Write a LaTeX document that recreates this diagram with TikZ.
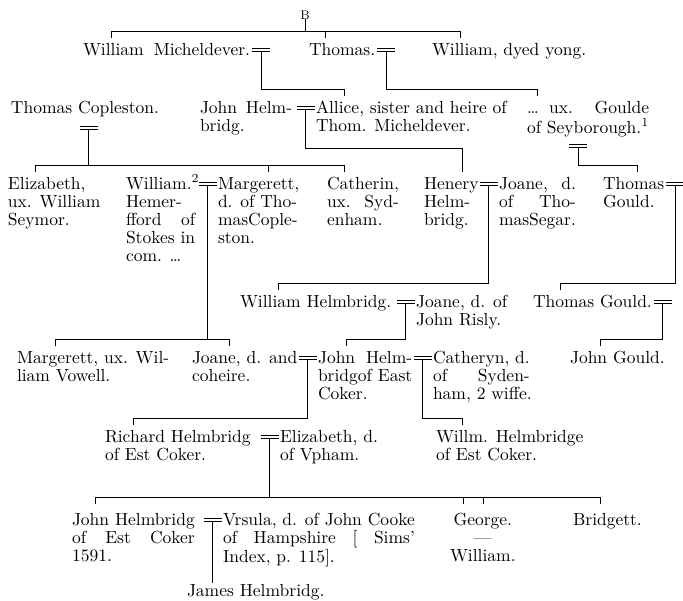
\documentclass[tikz,border=0pt]{standalone}
\usepackage{fontspec}
\usetikzlibrary{calc}
\newlength\spreadw
\newcommand\entry[2][l]{\begin{tabular}[t]{@{}#1@{}}#2\end{tabular}}
\newcommand\spreadto[2]{\settowidth{\spreadw}{#1}\makebox[\spreadw][s]{#2}}
\newcommand\wed[1]{\draw[link] ($(#1)+(-9,0)$) -- ++(18,0) ($(#1)+(-9,-3)$) -- ++(18,0);}
\begin{document}
\begin{tikzpicture}[x=0.6pt,y=-0.6pt,
  link/.style={line width=0.6pt},
  person/.style={anchor=base west,inner sep=0pt,outer sep=0pt,font=\fontsize{10.5}{10.8}\selectfont},
  letter/.style={anchor=base,inner sep=0pt,outer sep=0pt,font=\fontsize{7.5}{8}\selectfont}]
\useasboundingbox (0,0) rectangle (683,600);
\node[letter] (B) at (305,19) {B};
\begin{scope}[every node/.style={person}]
\node (wmich) at (83,55) {\entry{William\hspace{6pt}Micheldever.}};
\node (thomas) at (309,55) {\entry{Thomas.}};
\node (yong) at (432,55) {\entry{William, dyed yong.}};
\node (copleston) at (11,113) {\entry{Thomas Copleston.}};
\node (johnb) at (200,113) {\entry{John\enspace Helm-\\bridg.}};
\node (allice) at (316,113) {\entry{Allice, sister and heire of\\Thom. Micheldever.}};
\node (goulde) at (527,113) {\entry{\spreadto{of Seyborough.\textsuperscript{1}}{\dots{} ux. Goulde}\\of Seyborough.\textsuperscript{1}}};
\node (eliz) at (8,189) {\entry{Elizabeth,\\ux. William\\Seymor.}};
\node (willh) at (126,189) {\entry{William.\textsuperscript{2}\\Hemer-\\\spreadto{Stokes in}{fford of}\\Stokes in\\com. \dots}};
\node (marg) at (218,189) {\entry{Margerett,\\d. of Tho-\\masCople-\\ston.}};
\node (cath) at (327,189) {\entry{Catherin,\\\spreadto{Catherin,}{ux. Syd-}\\enham.}};
\node (henery) at (424,189) {\entry{Henery\\Helm-\\bridg.}};
\node (joanes) at (499,189) {\entry{\spreadto{masSegar.}{Joane, d.}\\\spreadto{masSegar.}{of Tho-}\\masSegar.}};
\node (thomg) at (603,189) {\entry{Thomas\\Gould.}};
\node (whelm) at (240,307) {\entry{William Helmbridg.}};
\node (joaner) at (416,307) {\entry{Joane, d. of\\John Risly.}};
\node (tgould) at (533,307) {\entry{Thomas Gould.}};
\node (margv) at (17,363) {\entry{Margerett, ux. Wil-\\liam Vowell.}};
\node (joanec) at (192,363) {\entry{Joane, d. and\\coheire.}};
\node (johnh) at (318,363) {\entry{\spreadto{bridgof East}{John Helm-}\\bridgof East\\Coker.}};
\node (cathy) at (433,363) {\entry{Catheryn, d.\\\spreadto{Catheryn, d.}{of Syden-}\\ham, 2 wiffe.}};
\node (jgould) at (570,363) {\entry{John Gould.}};
\node (richard) at (105,442) {\entry{Richard Helmbridg\\of Est Coker.}};
\node (elizv) at (280,442) {\entry{Elizabeth, d.\\of Vpham.}};
\node (willm) at (436,442) {\entry{Willm. Helmbridge\\of Est Coker.}};
\node (johne) at (72,525) {\entry{John Helmbridg\\\spreadto{John Helmbridg}{of Est Coker}\\1591.}};
\node (vrsula) at (223,525) {\entry{Vrsula, d. of John Cooke\\\spreadto{Vrsula, d. of John Cooke}{of Hampshire [ Sims'}\\Index, p. 115].}};
\node (george) at (450,525) {\entry[c]{George.\\---\\William.}};
\node (bridgett) at (573,525) {\entry{Bridgett.}};
\node (james) at (187,596) {\entry{James Helmbridg.}};
\end{scope}
% marriages
\coordinate (mmich) at ($(wmich.base east)+(11,-3.5)$);
\coordinate (mthom) at ($(thomas.base east)+(11,-3.5)$);
\coordinate (mcop) at ($(copleston.base)+(4,16)$);
\coordinate (mja) at ($(allice.base west)+(-10.5,-3.5)$);
\coordinate (mgou) at ($(goulde.base west)+(51,34)$);
\coordinate (mhj) at ($(joanes.base west)+(-10.5,-3.5)$);
\coordinate (mtg) at ($(thomg.base east)+(11,-3.5)$);
\coordinate (mwm) at ($(marg.base west)+(-10.5,-3.5)$);
\coordinate (mwj) at ($(joaner.base west)+(-10.5,-3.5)$);
\coordinate (mtg2) at ($(tgould.base east)+(11,-3.5)$);
\coordinate (mjj) at ($(johnh.base west)+(-10.5,-3.5)$);
\coordinate (mjc) at ($(cathy.base west)+(-10.5,-3.5)$);
\coordinate (mre) at ($(elizv.base west)+(-10.5,-3.5)$);
\coordinate (mjv) at ($(vrsula.base west)+(-10.5,-3.5)$);
\foreach \m in {mmich,mthom,mcop,mja,mgou,mhj,mtg,mwm,mwj,mtg2,mjj,mjc,mre,mjv}
  {\wed{\m}}
% descents
\draw[link] ($(wmich.north west)+(28,-4)$) -- ++(0,-7) coordinate (busa) -| ($(yong.north west)+(28,-4)$);
\draw[link] ($(thomas.north west)+(16,-4)$) -- ++(0,-7);
\draw[link] (B) -- (B |- busa);
\draw[link] (mmich) |- ($(allice.north west)+(28,-11)$) -- ++(0,7);
\draw[link] (mthom) |- ($(goulde.north west)+(10,-11)$) -- ++(0,7);
\draw[link] ($(eliz.north west)+(27,-4)$) -- ++(0,-7) coordinate (busb) -| ($(cath.north west)+(17,-4)$);
\draw[link] ($(marg.north west)+(50,-4)$) -- ++(0,-7);
\draw[link] (mcop) -- (mcop |- busb);
\draw[link] (mja) |- ($(henery.north west)+(38,-28)$) -- ++(0,24);
\draw[link] (mgou) |- ($(thomg.north west)+(34,-11)$) -- ++(0,7);
\draw[link] (mhj) |- ($(whelm.north west)+(38,-11)$) -- ++(0,7);
\draw[link] (mtg) |- ($(tgould.north west)+(27,-11)$) -- ++(0,7);
\draw[link] ($(margv.north west)+(38,-4)$) -- ++(0,-7) coordinate (busc) -| ($(joanec.north west)+(37,-4)$);
\draw[link] (mwm) -- (mwm |- busc);
\draw[link] (mwj) |- ($(johnh.north west)+(28,-11)$) -- ++(0,7);
\draw[link] (mtg2) |- ($(jgould.north west)+(30,-11)$) -- ++(0,7);
\draw[link] (mjj) |- ($(richard.north west)+(28,-11)$) -- ++(0,7);
\draw[link] (mjc) |- ($(willm.north west)+(26,-11)$) -- ++(0,7);
\draw[link] ($(johne.north west)+(23,-8)$) -- ++(0,-7) coordinate (busd) -| ($(bridgett.north west)+(27,-8)$);
\draw[link] ($(george.north west)+(13,-8)$) -- ++(0,-7) ($(george.north west)+(33,-8)$) -- ++(0,-7);
\draw[link] (mre) -- (mre |- busd);
\draw[link] (mjv) -- (mjv |- james.north);
\end{tikzpicture}
\end{document}
